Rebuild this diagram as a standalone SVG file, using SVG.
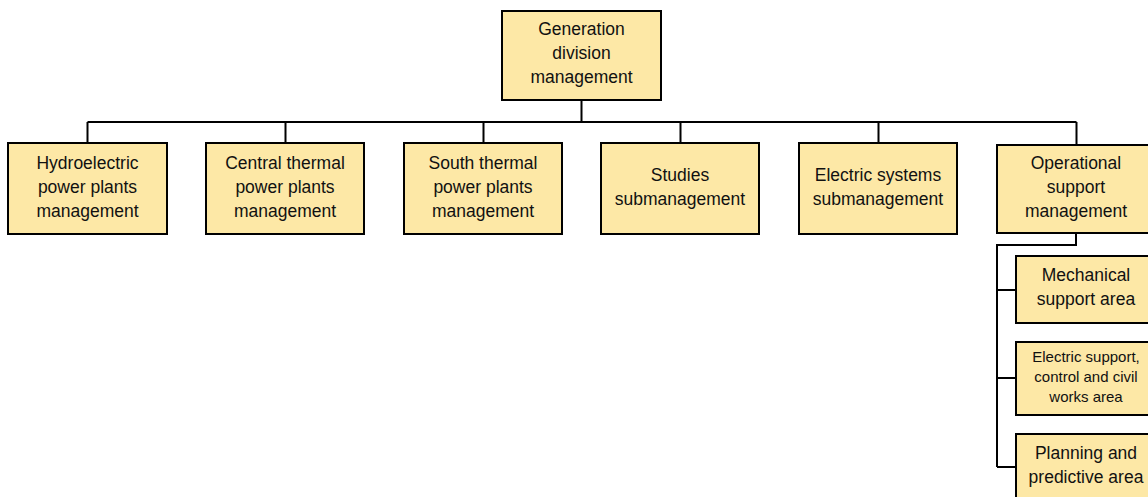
<svg xmlns="http://www.w3.org/2000/svg" width="1148" height="497" viewBox="0 0 1148 497">
<style>
.box{fill:#FDE8A6;stroke:#000;stroke-width:2}
.t{font-family:"Liberation Sans",Arial,sans-serif;font-size:17.5px;fill:#111;text-anchor:middle}
.s{font-size:15px}
.c{fill:none;stroke:#000;stroke-width:2}
</style>
<rect width="1148" height="497" fill="#fff"/>
<g id="connectors">
<path class="c" d="M581.5 100V122M87.5 122H1076.5M87.5 122V143M285.5 122V143M483.5 122V143M680.5 122V143M878.5 122V143M1076.5 122V145"/>
<path class="c" d="M1076 233V245H997V467M997 290H1016M997 378H1016M997 467H1016"/>
</g>
<g id="n0"><rect class="box" x="502" y="11" width="159" height="89"/>
<text class="t" x="581.5" y="35">Generation</text><text class="t" x="581.5" y="59">division</text><text class="t" x="581.5" y="83">management</text></g>
<g id="n1"><rect class="box" x="8" y="143" width="159" height="91"/>
<text class="t" x="87.5" y="169">Hydroelectric</text><text class="t" x="87.5" y="193">power plants</text><text class="t" x="87.5" y="217">management</text></g>
<g id="n2"><rect class="box" x="206" y="143" width="158" height="91"/>
<text class="t" x="285" y="169">Central thermal</text><text class="t" x="285" y="193">power plants</text><text class="t" x="285" y="217">management</text></g>
<g id="n3"><rect class="box" x="404" y="143" width="158" height="91"/>
<text class="t" x="483" y="169">South thermal</text><text class="t" x="483" y="193">power plants</text><text class="t" x="483" y="217">management</text></g>
<g id="n4"><rect class="box" x="601" y="143" width="158" height="91"/>
<text class="t" x="680" y="181">Studies</text><text class="t" x="680" y="205">submanagement</text></g>
<g id="n5"><rect class="box" x="799" y="143" width="158" height="91"/>
<text class="t" x="878" y="181">Electric systems</text><text class="t" x="878" y="205">submanagement</text></g>
<g id="n6"><rect class="box" x="997" y="145" width="159" height="88"/>
<text class="t" x="1076" y="169">Operational</text><text class="t" x="1076" y="193">support</text><text class="t" x="1076" y="217">management</text></g>
<g id="n7"><rect class="box" x="1016" y="256" width="140" height="67"/>
<text class="t" x="1086" y="281">Mechanical</text><text class="t" x="1086" y="305">support area</text></g>
<g id="n8"><rect class="box" x="1016" y="342" width="140" height="73"/>
<text class="t s" x="1086" y="362">Electric support,</text><text class="t s" x="1086" y="382">control and civil</text><text class="t s" x="1086" y="402">works area</text></g>
<g id="n9"><rect class="box" x="1016" y="434" width="140" height="67"/>
<text class="t" x="1086" y="459">Planning and</text><text class="t" x="1086" y="483">predictive area</text></g>
</svg>
